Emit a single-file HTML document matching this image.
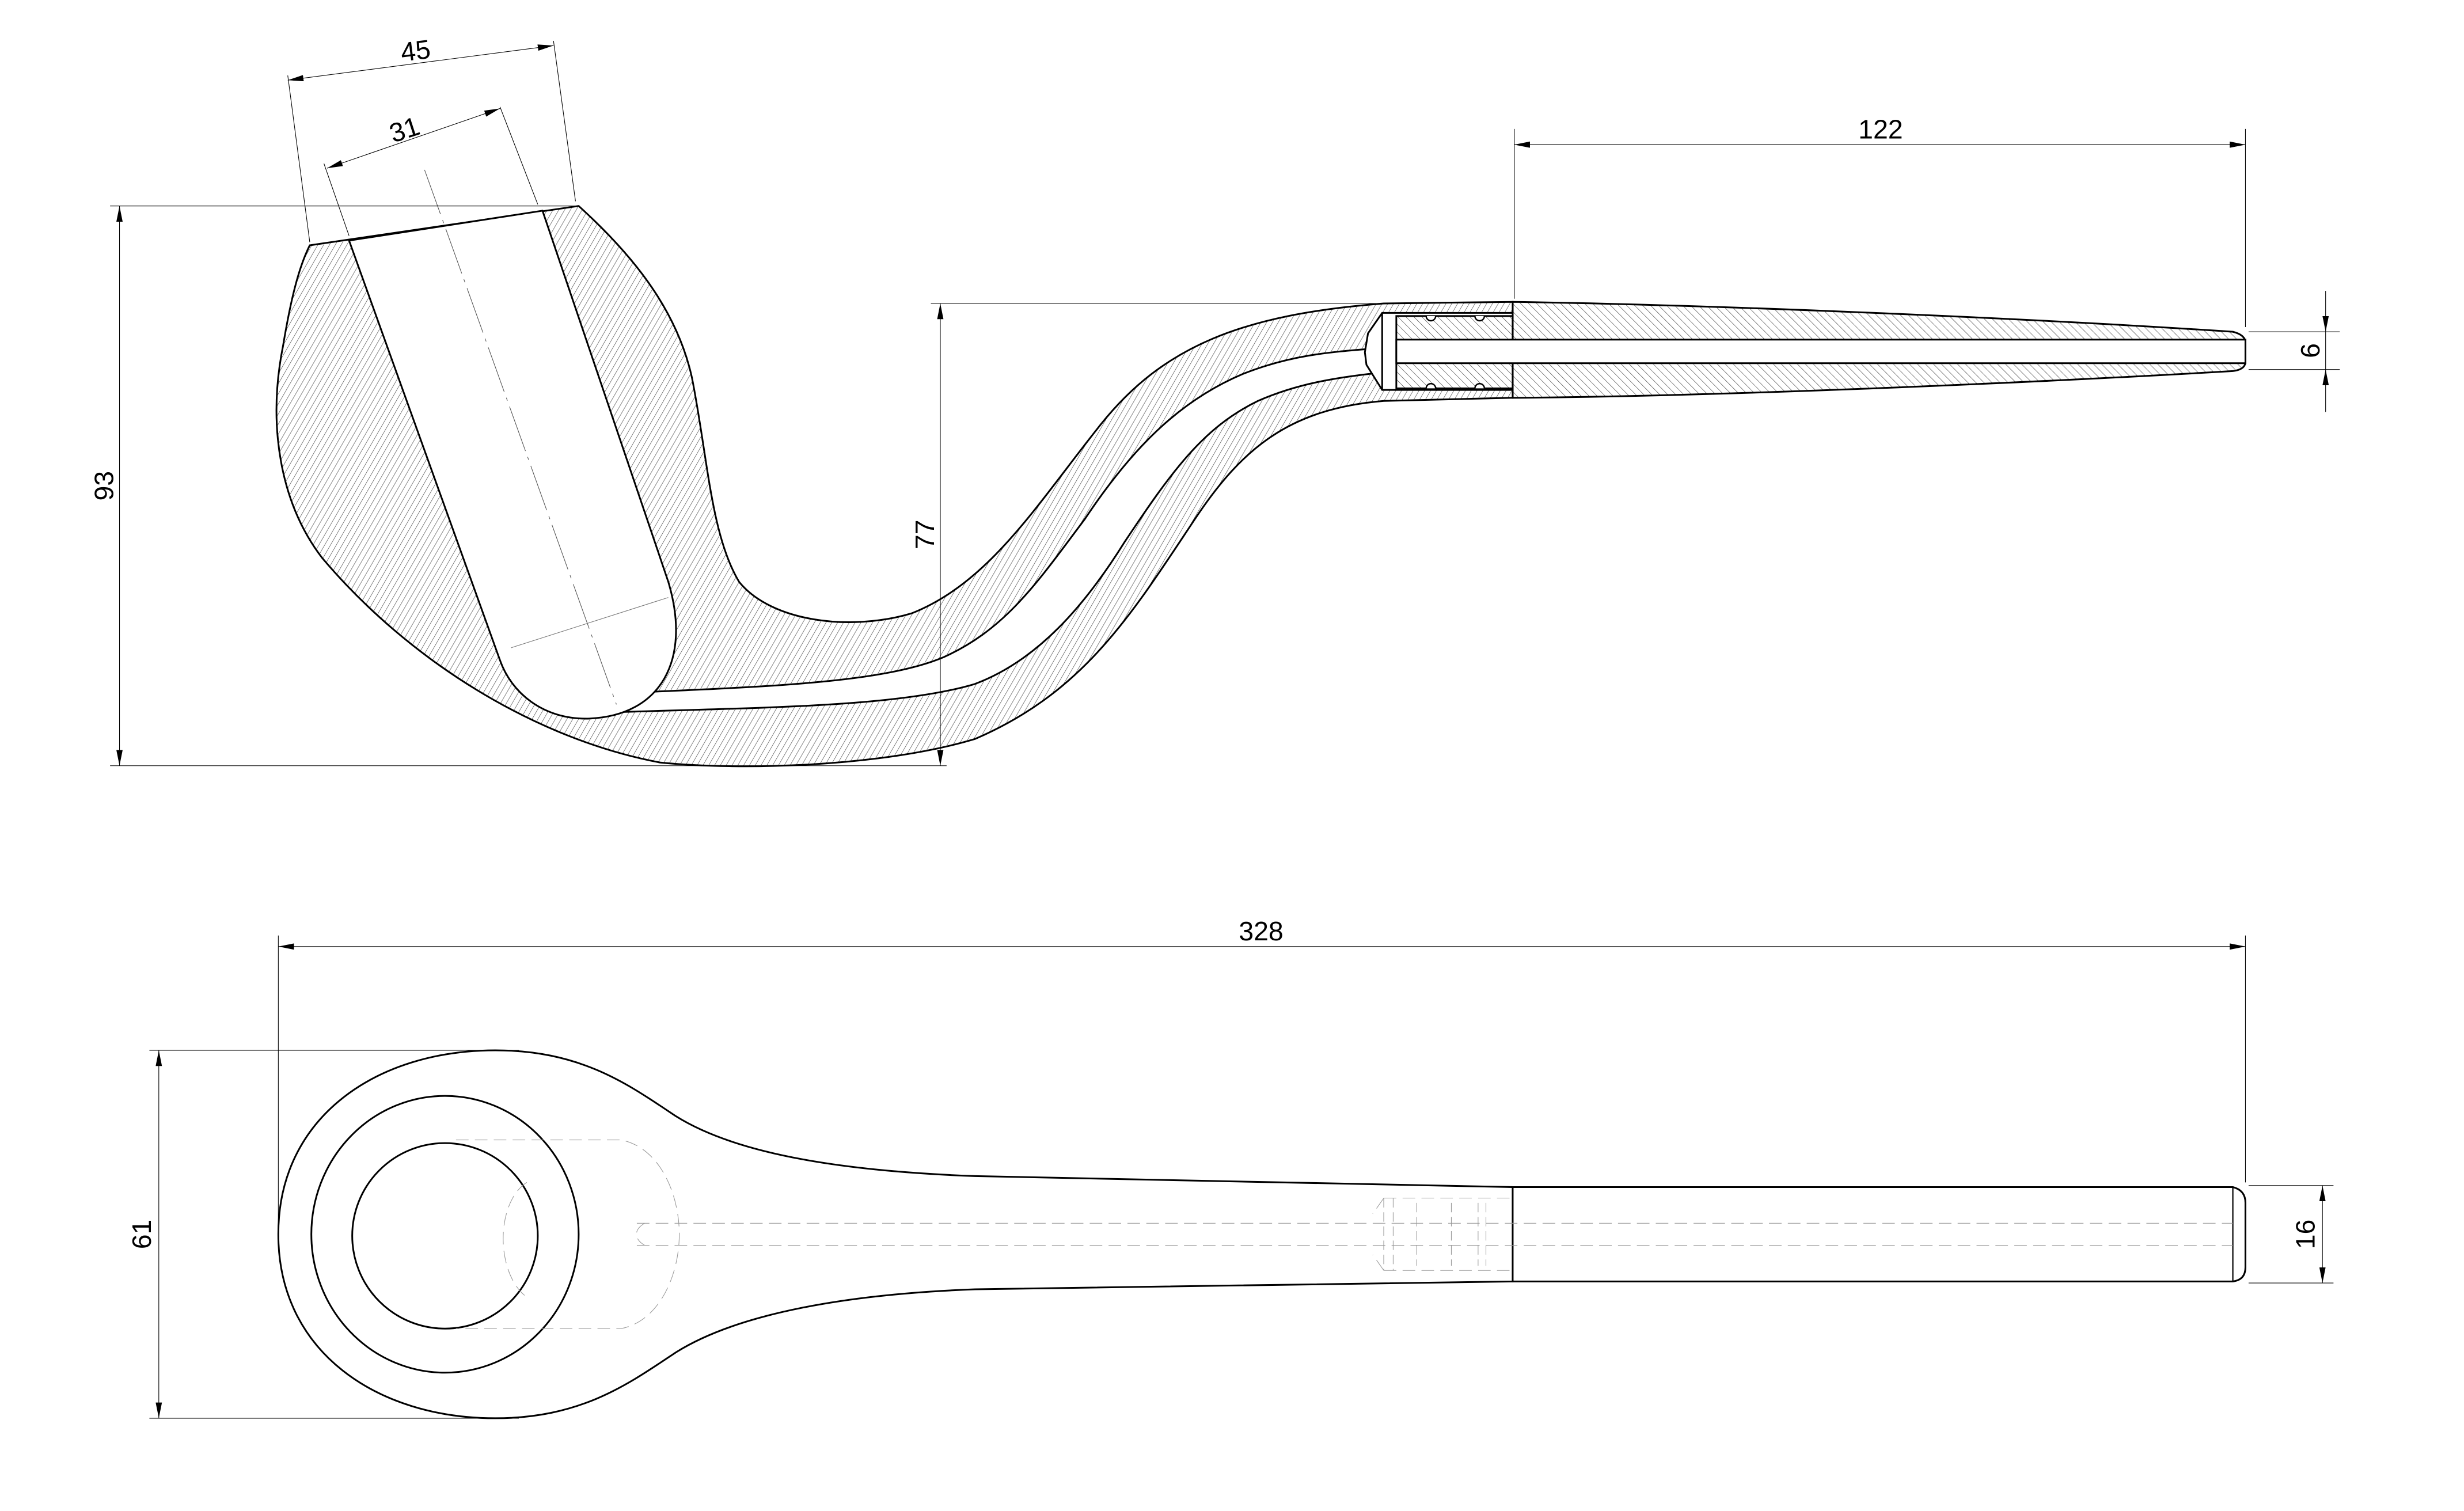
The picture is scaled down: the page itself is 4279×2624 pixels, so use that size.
<!DOCTYPE html>
<html><head><meta charset="utf-8"><style>
html,body{margin:0;padding:0;background:#fff;}
svg{display:block;}
text{font-family:"Liberation Sans",sans-serif;font-size:17px;fill:#000;}
</style></head><body>
<svg width="4279" height="2624" viewBox="0 0 1567 961" preserveAspectRatio="none" xmlns="http://www.w3.org/2000/svg">
<defs>
<pattern id="h1" width="3.2" height="3.2" patternUnits="userSpaceOnUse" patternTransform="rotate(30)">
<line x1="0" y1="0" x2="0" y2="3.2" stroke="#333" stroke-width="0.45"/></pattern>
<pattern id="h2" width="3.6" height="3.6" patternUnits="userSpaceOnUse" patternTransform="rotate(-45)">
<line x1="0" y1="0" x2="0" y2="3.6" stroke="#333" stroke-width="0.45"/></pattern>
<marker id="a" viewBox="0 0 10 4" refX="10" refY="2" markerWidth="10" markerHeight="4" markerUnits="userSpaceOnUse" orient="auto-start-reverse">
<path d="M0,0 L10,2 L0,4 Z" fill="#000"/></marker>
</defs>
<rect width="1567" height="961" fill="#fff"/>

<!-- ===== Side section ===== -->
<path d="M197,156 L368,131 C400,160 430,195 440,240 C450,290 452,340 470,370 C490,395 540,402 580,390 C630,370 660,320 700,270 C740,220 790,200 880,193 L962,192 L962,253 L880,255 C820,260 790,285 760,330 C720,390 690,440 620,470 C560,488 470,490 420,485 C340,470 260,420 205,355 C178,320 170,270 180,220 C185,190 190,170 197,156 Z" fill="url(#h1)" stroke="#000" stroke-width="1.1"/>
<!-- smoke channel -->
<path d="M390,441 C480,437 560,435 600,418 C640,400 660,370 690,330 C720,285 750,255 790,238 C820,226 845,224 870,222 L878,237 C850,240 825,244 800,255 C765,272 745,300 715,345 C690,385 660,420 620,435 C570,450 480,450 390,453 Z" fill="#fff" stroke="#000" stroke-width="1.1"/>
<!-- chamber -->
<path d="M222,153 L345,134 L425,370 C440,420 420,455 375,457 C345,458 325,440 318,420 Z" fill="#fff" stroke="#000" stroke-width="1.1"/>
<!-- mortise -->
<path d="M879,199 L962,199 L962,248 L879,248 L869,232 L868,224 L870,212 Z" fill="#fff" stroke="#000" stroke-width="1.1"/>
<!-- stem -->
<path d="M962,192 C1100,194 1300,203 1420,211 Q1428,213 1428,218 L1428,230 Q1428,235 1420,236 C1300,243 1100,252 962,253 Z" fill="url(#h2)" stroke="#000" stroke-width="1.1"/>
<rect x="888" y="201" width="74" height="46" fill="url(#h2)" stroke="#000" stroke-width="1.1"/>
<line x1="879" y1="199" x2="879" y2="248" stroke="#000" stroke-width="1.1"/>
<rect x="888" y="216" width="540" height="15" fill="#fff" stroke="#000" stroke-width="1.1"/>
<g fill="#fff" stroke="#000" stroke-width="0.9">
<path d="M907,201 a3,3 0 0 0 6,0"/><path d="M938,201 a3,3 0 0 0 6,0"/>
<path d="M907,247 a3,3 0 0 1 6,0"/><path d="M938,247 a3,3 0 0 1 6,0"/>
</g>
<!-- centre line -->
<line x1="270" y1="108" x2="392" y2="448" stroke="#555" stroke-width="0.4" stroke-dasharray="30,4,2,4"/>
<line x1="325" y1="412" x2="425" y2="380" stroke="#777" stroke-width="0.4"/>

<!-- dims top -->
<g stroke="#000" stroke-width="0.4" fill="none">
<line x1="183" y1="48" x2="197" y2="154"/><line x1="352" y1="26" x2="366" y2="128"/>
<line x1="183" y1="51" x2="352" y2="29" marker-start="url(#a)" marker-end="url(#a)"/>
<line x1="206" y1="104" x2="222" y2="150"/><line x1="318" y1="68" x2="342" y2="130"/>
<line x1="208" y1="107" x2="318" y2="69" marker-start="url(#a)" marker-end="url(#a)"/>
<line x1="70" y1="131" x2="368" y2="131"/><line x1="70" y1="487" x2="602" y2="487"/>
<line x1="76" y1="131" x2="76" y2="487" marker-start="url(#a)" marker-end="url(#a)"/>
<line x1="592" y1="193" x2="880" y2="193"/>
<line x1="598" y1="193" x2="598" y2="487" marker-start="url(#a)" marker-end="url(#a)"/>
<line x1="963" y1="82" x2="963" y2="190"/><line x1="1428" y1="82" x2="1428" y2="208"/>
<line x1="963" y1="92" x2="1428" y2="92" marker-start="url(#a)" marker-end="url(#a)"/>
<line x1="1430" y1="211" x2="1488" y2="211"/><line x1="1430" y1="235" x2="1488" y2="235"/>
<line x1="1479" y1="185" x2="1479" y2="211" marker-end="url(#a)"/>
<line x1="1479" y1="262" x2="1479" y2="235" marker-end="url(#a)"/>
<line x1="1479" y1="211" x2="1479" y2="235"/>
</g>
<text x="265" y="38" text-anchor="middle" transform="rotate(-7 265 38)">45</text>
<text x="259" y="88" text-anchor="middle" transform="rotate(-18 259 88)">31</text>
<text x="72" y="309" text-anchor="middle" transform="rotate(-90 72 309)">93</text>
<text x="594" y="340" text-anchor="middle" transform="rotate(-90 594 340)">77</text>
<text x="1196" y="88" text-anchor="middle">122</text>
<text x="1475" y="223" text-anchor="middle" transform="rotate(-90 1475 223)">6</text>

<!-- ===== Top view ===== -->
<path d="M177,785 C177,710 240,668 315,668 C370,668 400,690 430,710 C470,735 540,745 620,748 L962,755 L962,815 L620,820 C540,823 470,835 430,860 C400,880 370,902 315,902 C240,902 177,860 177,785 Z" fill="#fff" stroke="#000" stroke-width="1.1"/>
<ellipse cx="283" cy="785" rx="85" ry="88" fill="none" stroke="#000" stroke-width="1.1"/>
<circle cx="283" cy="786" r="59" fill="none" stroke="#000" stroke-width="1.1"/>
<path d="M962,755 L1420,755 Q1428,757 1428,765 L1428,806 Q1428,814 1420,815 L962,815 Z" fill="#fff" stroke="#000" stroke-width="1.1"/>
<line x1="1420" y1="755" x2="1420" y2="815" stroke="#000" stroke-width="0.8"/>
<g stroke="#999" stroke-width="0.4" fill="none" stroke-dasharray="8,4">
<path d="M290,725 L395,725 C420,730 432,760 432,785 C432,810 420,840 395,845 L290,845"/>
<path d="M335,752 C315,765 315,810 335,825"/>
<line x1="405" y1="778" x2="1420" y2="778"/><line x1="405" y1="792" x2="1420" y2="792"/>
<path d="M410,778 C403,782 403,788 410,792"/>
<path d="M880,762 L960,762 M880,808 L960,808 M880,762 L873,772 M880,808 L873,798"/>
</g>
<g stroke="#999" stroke-width="0.4" stroke-dasharray="6,3">
<line x1="880" y1="762" x2="880" y2="808"/><line x1="886" y1="762" x2="886" y2="808"/>
<line x1="901" y1="765" x2="901" y2="805"/><line x1="923" y1="765" x2="923" y2="805"/>
<line x1="940" y1="765" x2="940" y2="805"/><line x1="945" y1="765" x2="945" y2="805"/>
</g>
<!-- dims bottom -->
<g stroke="#000" stroke-width="0.4" fill="none">
<line x1="177" y1="595" x2="177" y2="780"/><line x1="1428" y1="595" x2="1428" y2="752"/>
<line x1="177" y1="602" x2="1428" y2="602" marker-start="url(#a)" marker-end="url(#a)"/>
<line x1="95" y1="668" x2="330" y2="668"/><line x1="95" y1="902" x2="330" y2="902"/>
<line x1="101" y1="668" x2="101" y2="902" marker-start="url(#a)" marker-end="url(#a)"/>
<line x1="1430" y1="754" x2="1484" y2="754"/><line x1="1430" y1="816" x2="1484" y2="816"/>
<line x1="1477" y1="754" x2="1477" y2="816" marker-start="url(#a)" marker-end="url(#a)"/>
</g>
<text x="802" y="598" text-anchor="middle">328</text>
<text x="96" y="785" text-anchor="middle" transform="rotate(-90 96 785)">61</text>
<text x="1472" y="785" text-anchor="middle" transform="rotate(-90 1472 785)">16</text>
</svg>
</body></html>
